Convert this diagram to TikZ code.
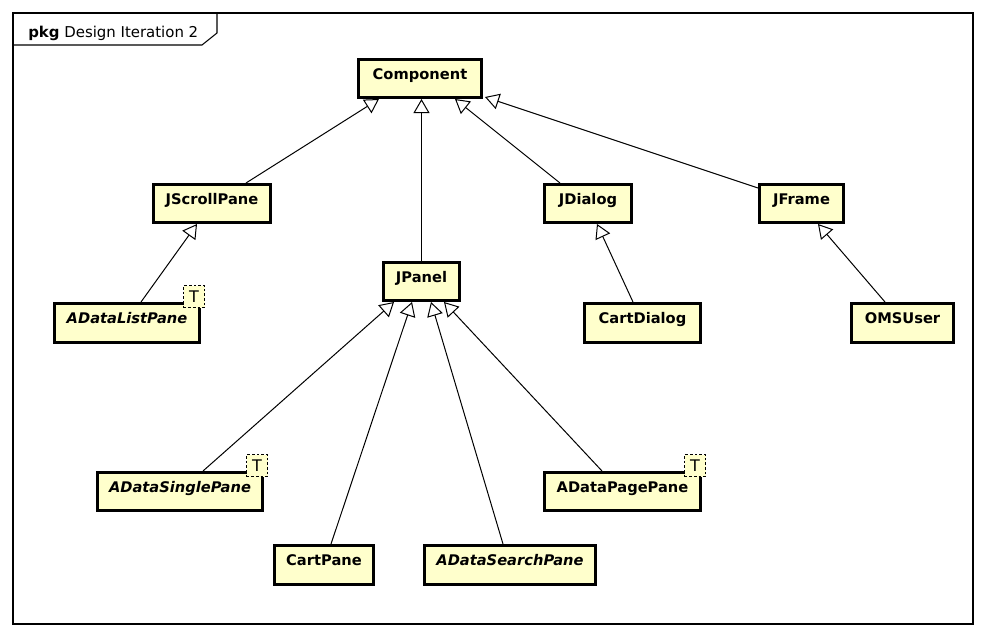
\documentclass[tikz,border=0pt]{standalone}
\usepackage{fontspec}
\setmainfont{DejaVu Sans}
\usetikzlibrary{arrows.meta,calc}
\definecolor{umlfill}{RGB}{255,255,204}
\begin{document}
\begin{tikzpicture}[x=0.75pt,y=-0.75pt,
  cls/.style 2 args={draw, line width=2.25pt, fill=umlfill, inner sep=0pt,
    minimum width=#1*0.75pt-2.25pt, minimum height=#2*0.75pt-2.25pt,
    font=\fontsize{11}{13}\selectfont\bfseries, text height=8pt, text depth=7pt},
  abs/.style={font=\fontsize{11}{13}\selectfont\bfseries\itshape},
  tagbox/.style={draw, line width=0.6pt, dash pattern=on 2pt off 1.5pt, fill=umlfill,
    minimum width=21*0.75pt, minimum height=22*0.75pt, inner sep=0pt,
    font=\fontsize{12}{14}\selectfont},
  gen/.style={line width=0.75pt, -{Triangle[length=10.5pt,width=12pt,fill=white]}},
  frameline/.style={line width=0.8pt}
]
\useasboundingbox (0,0) rectangle (986,637);

% frame
\draw[frameline] (13,13) rectangle (973,624);
\draw[frameline] (13,45) -- (202,45) -- (217,33) -- (217,13);
\node[anchor=base west, inner sep=0pt, font=\fontsize{11.2}{13}\selectfont] (title) at (28,37) {\textbf{pkg} Design Iteration 2};

% classes
\node[cls={126}{41}] (comp) at (420,78.5) {Component};
\node[cls={120}{41}] (jscroll) at (212,203.5) {JScrollPane};
\node[cls={79}{41}] (jpanel) at (421.5,281.5) {JPanel};
\node[cls={90}{41}] (jdialog) at (588,203.5) {JDialog};
\node[cls={87}{41}] (jframe) at (801.5,203.5) {JFrame};
\node[cls={148}{42}, abs] (adlist) at (127,323) {ADataListPane};
\node[cls={119}{42}] (cartdialog) at (642.5,323) {CartDialog};
\node[cls={105}{42}] (omsuser) at (902.5,323) {OMSUser};
\node[cls={168}{41}, abs] (adsingle) at (180,491.5) {ADataSinglePane};
\node[cls={159}{41}] (adpage) at (622.5,491.5) {ADataPagePane};
\node[cls={102}{42}] (cartpane) at (324,565) {CartPane};
\node[cls={174}{42}, abs] (adsearch) at (510,565) {ADataSearchPane};

% template tags
\node[tagbox] (tlist) at ($(adlist.north east)+(-7,-5.5)$) {T};
\node[tagbox] (tsingle) at ($(adsingle.north east)+(-7,-5.5)$) {T};
\node[tagbox] (tpage) at ($(adpage.north east)+(-7,-5.5)$) {T};

% generalizations
\draw[gen] ($(jscroll.north west)+(94,0)$) -- ($(comp.south west)+(22,0)$);
\draw[gen] (jpanel.north) -- (jpanel.north |- comp.south);
\draw[gen] ($(jdialog.north west)+(17,0)$) -- ($(comp.south west)+(98,0)$);
\draw[gen] ($(jframe.north west)+(0,5)$) -- ($(comp.south east)+(2,-2)$);
\draw[gen] ($(adlist.north west)+(88,0)$) -- ($(jscroll.south west)+(45,0)$);
\draw[gen] ($(cartdialog.north west)+(50,0)$) -- ($(jdialog.south west)+(54,0)$);
\draw[gen] ($(omsuser.north west)+(35,0)$) -- ($(jframe.south west)+(60,0)$);
\draw[gen] ($(adsingle.north west)+(107,0)$) -- ($(jpanel.south west)+(12,0)$);
\draw[gen] ($(cartpane.north west)+(58,0)$) -- ($(jpanel.south west)+(30,0)$);
\draw[gen] ($(adsearch.north west)+(80,0)$) -- ($(jpanel.south west)+(49,0)$);
\draw[gen] ($(adpage.north west)+(59,0)$) -- ($(jpanel.south west)+(62,0)$);
\end{tikzpicture}
\end{document}
